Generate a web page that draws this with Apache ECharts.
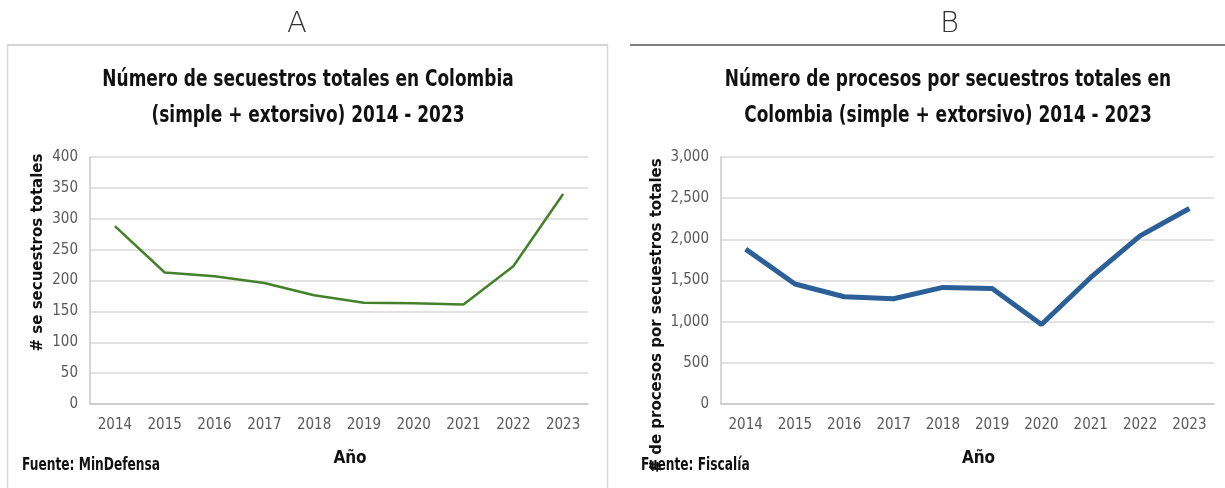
<!DOCTYPE html>
<html>
<head>
<meta charset="utf-8">
<script src="https://cdn.jsdelivr.net/npm/echarts@6/dist/echarts.min.js"></script>
<style>
  html, body { margin: 0; padding: 0; background: #fff; }
  #main { width: 1225px; height: 488px; }
</style>
</head>
<body>
<div id="main"></div>
<script>
// años comunes a ambos gráficos
const years = ['2014', '2015', '2016', '2017', '2018', '2019', '2020', '2021', '2022', '2023'];
// A: secuestros totales (MinDefensa)
const secuestros = [288, 213, 207, 196, 176, 164, 163, 161, 223, 340];
// B: procesos por secuestros totales (Fiscalía)
const procesos = [1881, 1457, 1303, 1279, 1416, 1404, 966, 1537, 2042, 2374];

const narrow = '"Liberation Sans Narrow", "DejaVu Sans Condensed", sans-serif';
const tick = { color: '#595959', fontFamily: narrow, fontSize: 15 };
const yName = { fontFamily: '"DejaVu Sans", sans-serif', fontWeight: 'bold', fontSize: 15, color: '#111' };

// texto condensado (no hay fuente narrow instalada, se escala en x)
function narrowText(txt, x, y, size, align, sx) {
  return {
    type: 'text', x: x, y: y, scaleX: sx,
    style: {
      text: txt, fontFamily: narrow, fontWeight: 'bold', fontSize: size, lineHeight: 36,
      fill: '#111', textAlign: align, textVerticalAlign: 'middle'
    }
  };
}

const chart = echarts.init(document.getElementById('main'));

chart.setOption({
  animation: false,
  grid: [
    { left: 90, top: 157, width: 498, height: 247 },
    { left: 721, top: 157, width: 493, height: 247 }
  ],
  xAxis: [0, 1].map(i => ({
    type: 'category', gridIndex: i, data: years,
    axisTick: { show: false },
    axisLine: { lineStyle: { color: '#c8c8c8', width: 1.5 } },
    axisLabel: Object.assign({ margin: 14 }, tick),
    name: 'Año', nameLocation: 'middle', nameGap: 46,
    nameTextStyle: { fontFamily: narrow, fontWeight: 'bold', fontSize: 17, color: '#111', padding: [0, 0, 0, 22] }
  })),
  yAxis: [
    {
      type: 'value', gridIndex: 0, min: 0, max: 400, interval: 50,
      axisLine: { show: true, lineStyle: { color: '#c8c8c8', width: 1.5 } },
      splitLine: { lineStyle: { color: '#d9d9d9', width: 1.5 } },
      axisLabel: Object.assign({ margin: 12 }, tick),
      name: '# se secuestros totales', nameLocation: 'middle', nameGap: 44,
      nameTextStyle: Object.assign({ padding: [0, 0, 0, 56] }, yName)
    },
    {
      type: 'value', gridIndex: 1, min: 0, max: 3000, interval: 500,
      axisLine: { show: true, lineStyle: { color: '#c8c8c8', width: 1.5 } },
      splitLine: { lineStyle: { color: '#d9d9d9', width: 1.5 } },
      axisLabel: Object.assign({ margin: 12, formatter: v => v.toLocaleString('en-US') }, tick),
      name: '# de procesos por secuestros totales', nameLocation: 'middle', nameGap: 56,
      nameTextStyle: Object.assign({ padding: [0, 70, 0, 0] }, yName)
    }
  ],
  series: [
    {
      type: 'line', xAxisIndex: 0, yAxisIndex: 0, data: secuestros,
      symbol: 'none', lineStyle: { color: '#43812b', width: 2.5 }
    },
    {
      type: 'line', xAxisIndex: 1, yAxisIndex: 1, data: procesos,
      symbol: 'none', lineStyle: { color: '#2b5f97', width: 5 }
    }
  ],
  graphic: [
    // marco del panel A
    { type: 'rect', shape: { x: 7.5, y: 45, width: 600, height: 450 }, z: -1,
      style: { fill: 'none', stroke: '#d9d9d9', lineWidth: 1.5 } },
    { type: 'line', shape: { x1: 7, y1: 45, x2: 608, y2: 45 }, style: { stroke: '#d4d4d4', lineWidth: 2 } },
    // línea superior del panel B
    { type: 'line', shape: { x1: 630, y1: 45, x2: 1225, y2: 45 }, style: { stroke: '#7f7f7f', lineWidth: 2 } },
    { type: 'text', left: 287, top: 10, style: { text: 'A', fontFamily: '"DejaVu Sans", sans-serif', fontWeight: 200, fontSize: 29, fill: '#333' } },
    { type: 'text', left: 940, top: 10, style: { text: 'B', fontFamily: '"DejaVu Sans", sans-serif', fontWeight: 200, fontSize: 29, fill: '#333' } },
    narrowText('Número de secuestros totales en Colombia\n(simple + extorsivo) 2014 - 2023', 308, 98, 23, 'center', 0.82),
    narrowText('Número de procesos por secuestros totales en\nColombia (simple + extorsivo) 2014 - 2023', 948, 98, 23, 'center', 0.82),
    narrowText('Fuente: MinDefensa', 22, 466, 17, 'left', 0.8),
    narrowText('Fuente: Fiscalía', 641, 466, 17, 'left', 0.8)
  ]
});
</script>
</body>
</html>
